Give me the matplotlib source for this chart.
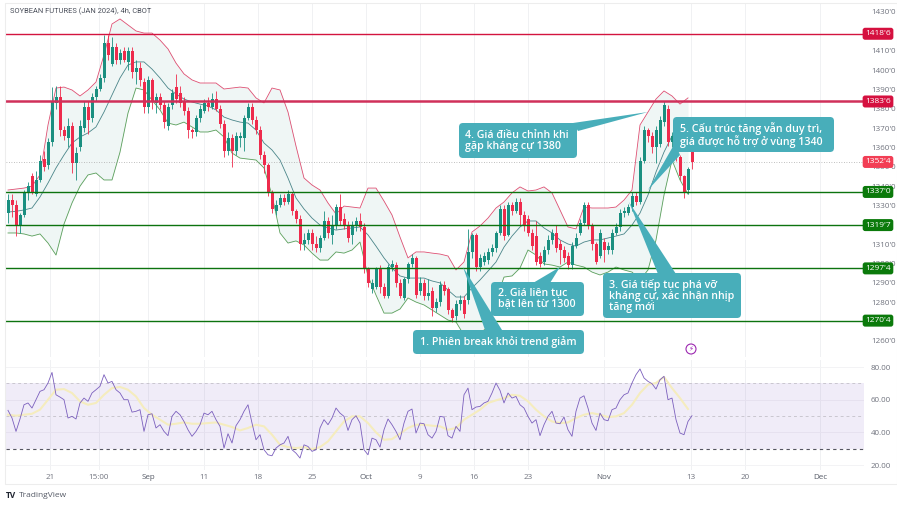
import numpy as np
import matplotlib
matplotlib.use("Agg")
import matplotlib.pyplot as plt
from matplotlib.patches import FancyBboxPatch, Polygon, Rectangle
from matplotlib.transforms import Affine2D

W, H = 897, 511

# candles, one row per bar, left to right
opens = [1326,1333,1330,1320,1325,1337,1345,1336,1343,1354,1351,1363,1383,1386,1369,1365,1371,1352,1360,1370,
         1381,1375,1386,1390,1396,1414,1403,1412,1405,1410,1404,1410,1399,1401,1394,1381,1395,1383,1386,1382,
         1371,1382,1391,1388,1384,1379,1369,1368,1375,1379,1383,1381,1385,1380,1372,1358,1365,1358,1365,1365,
         1375,1381,1374,1369,1356,1351,1337,1327,1330,1334,1332,1336,1327,1323,1310,1312,1316,1310,1308,1313,
         1322,1315,1320,1329,1323,1320,1315,1320,1322,1319,1297,1287,1288,1297,1288,1283,1298,1299,1290,1282,
         1292,1300,1303,1286,1290,1283,1286,1277,1280,1289,1287,1276,1273,1279,1281,1281,1306,1315,1298,1301,
         1302,1306,1308,1316,1328,1315,1330,1327,1332,1325,1323,1316,1314,1304,1301,1307,1312,1316,1310,1307,
         1304,1299,1309,1316,1321,1330,1320,1310,1304,1311,1307,1307,1316,1319,1326,1326,1329,1335,1332,1353,
         1369,1366,1360,1362,1373,1380,1363,1368,1355,1345,1338,1358]
highs = [1336,1336,1333,1326,1338,1342,1347,1348,1356,1358,1365,1391,1392,1392,1371,1375,1373,1360,1374,1384,
         1384,1388,1392,1398,1418,1418,1417,1414,1411,1412,1412,1412,1405,1404,1396,1397,1396,1388,1388,1384,
         1383,1390,1398,1392,1386,1381,1370,1377,1382,1385,1386,1388,1389,1382,1374,1368,1367,1368,1368,1377,
         1383,1383,1376,1371,1358,1352,1338,1333,1336,1336,1338,1337,1328,1325,1316,1318,1318,1314,1315,1327,
         1324,1325,1331,1336,1326,1322,1322,1324,1326,1321,1298,1292,1298,1299,1290,1300,1302,1301,1292,1293,
         1301,1305,1304,1293,1292,1292,1288,1282,1291,1291,1288,1277,1281,1284,1283,1318,1316,1316,1305,1306,
         1308,1310,1317,1330,1330,1332,1332,1334,1334,1327,1325,1318,1322,1306,1309,1315,1318,1320,1312,1309,
         1306,1311,1316,1323,1332,1332,1321,1311,1318,1313,1311,1318,1321,1328,1329,1331,1337,1337,1355,1371,
         1370,1368,1371,1376,1384,1382,1368,1370,1356,1346,1350,1359]
lows = [1321,1324,1314,1316,1324,1333,1336,1335,1342,1348,1349,1361,1380,1366,1364,1360,1347,1343,1358,1368,
        1367,1373,1384,1389,1394,1405,1402,1403,1403,1404,1400,1396,1393,1392,1378,1378,1380,1378,1380,1370,
        1369,1380,1383,1381,1377,1365,1365,1366,1373,1378,1379,1380,1379,1370,1355,1356,1350,1356,1360,1358,
        1374,1372,1367,1354,1347,1335,1326,1325,1329,1330,1331,1325,1321,1307,1307,1310,1307,1306,1306,1312,
        1313,1310,1318,1320,1318,1311,1310,1317,1317,1295,1288,1285,1287,1285,1282,1282,1296,1288,1282,1281,
        1290,1298,1282,1284,1281,1281,1273,1275,1278,1284,1274,1270,1271,1276,1272,1279,1303,1296,1296,1299,
        1300,1304,1306,1315,1312,1314,1325,1326,1320,1317,1314,1307,1299,1298,1299,1305,1310,1306,1300,1301,
        1297,1297,1308,1315,1320,1318,1307,1300,1303,1301,1305,1305,1315,1317,1324,1325,1327,1330,1331,1352,
        1363,1357,1352,1360,1371,1361,1360,1353,1343,1334,1336,1349]
closes = [1333,1330,1320,1325,1337,1340,1337,1343,1353,1350,1363,1384,1386,1369,1366,1371,1352,1357,1371,1381,
          1374,1386,1390,1396,1414,1408,1412,1405,1409,1405,1410,1399,1401,1395,1381,1395,1384,1386,1382,1373,
          1381,1388,1385,1383,1379,1369,1368,1375,1380,1383,1381,1385,1380,1372,1358,1365,1358,1366,1366,1375,
          1381,1374,1369,1356,1351,1337,1328,1330,1334,1332,1336,1327,1323,1310,1312,1316,1310,1308,1313,1322,
          1316,1320,1329,1322,1320,1313,1320,1322,1319,1297,1290,1290,1297,1288,1283,1298,1300,1290,1283,1292,
          1300,1303,1284,1290,1283,1285,1277,1280,1289,1286,1276,1272,1279,1281,1274,1306,1315,1298,1303,1304,
          1306,1308,1316,1328,1314,1330,1327,1332,1325,1320,1316,1309,1301,1300,1307,1312,1316,1308,1307,1303,
          1299,1309,1313,1321,1330,1320,1310,1301,1316,1307,1309,1316,1319,1326,1327,1329,1335,1332,1353,1369,
          1366,1360,1369,1374,1382,1363,1366,1355,1345,1337,1349,1352.5]

# bollinger bands, one value every second bar
bb_upper = [1338,1338.5,1339,1340,1345.8,1371.6,1390.7,1391.2,1389.7,1386.6,1389.7,1393.8,1407.8,1423.8,1426.4,1423.3,
            1420.2,1419.1,1419.1,1415.5,1410.9,1403.6,1398,1394.9,1393.3,1393.3,1393.3,1390.2,1390.7,1391.2,1390.7,
            1385.6,1383,1390.7,1389.7,1378.3,1360.7,1344.2,1340.6,1338,1331.3,1325.6,1329.7,1329.2,1328.7,1339,1339,
            1332.3,1325.1,1313.7,1302.9,1306,1306,1305.4,1304.9,1303.9,1296.7,1300.8,1316.3,1319.4,1323.5,1328.7,
            1331.8,1336.5,1339.6,1337.5,1338,1339.6,1336.5,1327.7,1318.9,1317.9,1329.2,1328.7,1328.7,1328.7,1329.2,
            1332.8,1338,1371.6,1378.3,1385,1389.2,1386.6,1382.4,1385.6]
bb_mid = [1326.6,1327,1327.7,1328.7,1334.4,1341.6,1349.4,1356.1,1362.3,1365.4,1367.5,1370.6,1378.3,1387.1,1395.9,1402.6,
          1404.2,1404.2,1400.5,1395.9,1390.7,1387.6,1385,1383.5,1382.4,1381.4,1379.4,1375.7,1374.2,1373.1,1372.6,
          1369,1362.3,1358.7,1353.5,1344.2,1333.9,1328.2,1323.5,1319.9,1318.4,1317.3,1317.9,1318.4,1318.9,1314.8,1309,
          1302.9,1297.7,1293.6,1292.5,1292.5,1292.5,1291,1290,1286.3,1282.7,1282.7,1287.4,1291.5,1296.1,1300.8,
          1308.5,1314.2,1318.9,1322,1322,1318.4,1315.8,1312.2,1310.1,1309,1311.1,1312.2,1312.2,1313.2,1314.2,
          1315.3,1319.9,1326.1,1335.4,1347.3,1357.6,1365.9,1363.8,1360.2]
bb_lower = [1315.8,1315.8,1315.3,1314.2,1315.3,1310.6,1304.4,1320.4,1331.3,1340,1345.8,1346.8,1343.2,1343.2,1357.6,1377.8,
            1390.7,1389.7,1384.5,1379.4,1372.6,1371.6,1373.1,1370.6,1368,1368,1369,1365.4,1357.1,1354.5,1354,
            1353.5,1349.4,1335.4,1315.8,1310.6,1311.7,1309.6,1305.4,1301.8,1301.8,1306,1305.4,1307,1311.1,1293.6,1283.7,
            1274.4,1274.4,1276.5,1282.2,1280.1,1278.6,1276,1273.4,1270.8,1269.8,1263,1261.5,1264.1,1267.2,1281.2,
            1293,1293.6,1297.7,1307,1304.4,1299.8,1299.2,1298.2,1300.8,1299.2,1298.2,1295.6,1294.1,1295.6,1298.2,
            1296.7,1295.6,1291.5,1296.7,1312.2,1335.4,1353.5,1343.2,1335.9]

# rsi per bar, rsi average every second bar
rsi = [53.5,48.8,40.6,48.2,56.9,58,54.9,60,65.1,66.1,70.2,76.7,63,61.6,60,48.8,49.8,48.2,58,61,59,64.1,66.1,68.2,75.3,
       70.2,71.2,66.1,64.1,60,60,52.4,52.9,53.9,40.6,50.8,51.4,42.7,44.7,40.6,38,49.8,52.9,50.8,46.7,41.6,37.6,40.6,
       44.7,51.8,50.8,52.9,47.8,43.7,30.4,39.2,33.5,44.1,47.8,52.9,56.9,45.7,35.5,38.6,29.4,26.3,25.7,30.4,32.4,33.5,
       37.6,29.4,27.3,24.3,32.4,31.4,28.4,29.4,42.7,47.8,44.7,48.8,54.9,51.8,49.8,41.2,47.8,50.2,45.7,29.4,26.3,36.5,
       35.5,31,41.6,48.2,44.7,40.6,35.5,45.7,52.9,54.3,39.6,45.7,45.3,38.6,36.5,40.6,49.8,49.4,38,36.5,43.7,40.6,63,
       67.1,53.9,55.5,55.9,58,59,64.1,70.2,65.7,58,64.1,61,62,56.9,54.9,49.8,45.7,47.8,38,44.7,49.8,52.9,45.7,45.3,
       49.4,41.6,37.6,52.9,61,62.4,54.9,45.7,41.2,51.8,47.8,47.1,53.9,54.9,60,63,64.1,70.2,75.3,78.8,73.3,71.2,69.8,
       66.5,72.2,74.3,60,61,47.8,39.6,38.6,46.7,50.2]
rsi_ma = [50.8,50.2,50.8,51.4,53.9,60,66.1,66.5,64.1,59,56.9,58,63,67.1,67.8,66.1,62,54.9,50.8,47.8,44.7,45.3,46.1,45.3,
          45.3,45.7,46.1,44.7,43.3,41.2,42.7,44.7,43.7,38.6,32.4,31,30.4,31,29.8,31,34.5,40.6,46.7,49.8,49.8,45.7,40,
          35.5,35.9,39.2,42.7,44.7,44.7,44.1,43.7,41.6,42.7,47.8,50.8,53.9,58,59.6,61,63,62.4,59,53.9,49.8,46.7,45.7,
          46.1,48.8,50.8,51.8,50.8,49.4,49.8,51.8,56.9,64.1,69.2,70.2,73.9,67.1,61,54.3]

# horizontal levels drawn on the chart
res_levels = [1418.75, 1383.75]
res_labels = ["1418'6", "1383'6"]
sup_levels = [1337.0, 1319.875, 1297.5, 1270.5]
sup_labels = ["1337'0", "1319'7", "1297'4", "1270'4"]
last_price = 1352.5
last_label = "1352'4"

# 1420, 1320 and 1270 sit fully behind the level tags in the reference
price_ticks = [1260, 1280, 1290, 1300, 1310, 1330, 1340, 1350, 1360, 1370, 1380, 1390, 1400, 1410, 1430]
price_grid = [1280, 1310, 1340, 1370, 1400, 1430]
rsi_ticks = [20, 40, 60, 80]
time_pos = [10.5, 22.75, 35, 49, 62.5, 76, 89.5, 103, 116.5, 130, 149, 170.75, 184.25, 203]
time_labels = ["21", "15:00", "Sep", "11", "18", "25", "Oct", "9", "16", "23", "Nov", "13", "20", "Dec"]

TEAL = "#1a8f80"
RED = "#ee2b4c"
BUBBLE = "#48aeba"
GRAY = "#70737e"

plt.rcParams['font.family'] = ['Open Sans', 'DejaVu Sans']

fig = plt.figure(figsize=(W / 100, H / 100), dpi=100)
px = Affine2D().scale(1 / W, -1 / H).translate(0, 1) + fig.transFigure


def pane(left, top, right, bottom):
    return fig.add_axes([left / W, 1 - bottom / H, (right - left) / W, (bottom - top) / H])


ax = pane(5.5, 3, 864, 357)
ax2 = pane(5.5, 360, 864, 470)
x_lim = ((5.5 - 8) / 4, (864 - 8) / 4)

bars = np.arange(len(closes))
o = np.array(opens)
c = np.array(closes)
colors = [TEAL if b else RED for b in c >= o]

band_x = bars[::2][:len(bb_mid)]
ax.fill_between(band_x, bb_lower, bb_upper, color="#eff6f5", lw=0, zorder=1)
ax.plot(band_x, bb_upper, color="#dd4f72", lw=0.6, zorder=2)
ax.plot(band_x, bb_lower, color="#5a9f5a", lw=0.6, zorder=2)
ax.plot(band_x, bb_mid, color="#4a8589", lw=0.6, zorder=2)

ax.vlines(bars, lows, highs, colors=colors, lw=0.6, zorder=3)
ax.bar(bars, np.maximum(np.abs(c - o), 0.6), bottom=np.minimum(o, c), width=0.75, color=colors, lw=0, zorder=3)

ax.set_xlim(x_lim)
ax.set_ylim(1436.2 - 0.5168 * 357, 1436.2 - 0.5168 * 3)
ax.set_yticks(price_ticks)
ax.set_yticklabels([f"{p}'0" for p in price_ticks])
ax.set_yticks(price_grid, minor=True)

ax.axhline(last_price, color="#aaaaaa", lw=0.6, ls=(0, (1, 2)), zorder=2)
ax.axhline(res_levels[0], color="#d3143f", lw=1.0, zorder=4)
ax.axhline(res_levels[1], color="#d0305a", lw=1.8, zorder=4)
for lv in sup_levels:
    ax.axhline(lv, color="#0c730f", lw=1.0, zorder=4)


def tag(level, label, color):
    ax.text(1 + 14 / 858.5, level, label, transform=ax.get_yaxis_transform(), ha="center", va="center",
            color="white", fontsize=6, zorder=6, clip_on=False,
            bbox=dict(boxstyle="round,pad=0.3", fc=color, ec="none"))


for lv, lb in zip(res_levels, res_labels):
    tag(lv, lb, "#d5103f")
for lv, lb in zip(sup_levels, sup_labels):
    tag(lv, lb, "#0b7a0b")
tag(last_price, last_label, "#f23e55")

ax2.axhspan(30, 70, color="#7e57c2", alpha=0.11, lw=0, zorder=1)
ax2.axhline(70, color="#c9c6cf", lw=0.7, ls=(0, (3, 3)), zorder=2)
ax2.axhline(50, color="#c9c6cf", lw=0.7, ls=(0, (3, 3)), zorder=2)
ax2.axhline(30, color="#555560", lw=0.8, ls=(0, (3, 3)), zorder=2)
ax2.plot(band_x, rsi_ma, color="#f5ecbe", lw=1.5, zorder=3)
ax2.plot(bars, rsi, color="#7b5fbd", lw=0.6, zorder=4)
ax2.set_xlim(x_lim)
ax2.set_ylim(80 - (470 - 367) / 1.635, 80 + (367 - 360) / 1.635)
ax2.set_yticks(rsi_ticks)
ax2.set_yticklabels([f"{v}.00" for v in rsi_ticks])

for a in (ax, ax2):
    a.yaxis.tick_right()
    a.set_xticks(time_pos)
    a.tick_params(axis="y", which="major", length=0, pad=5, labelsize=5.8, labelcolor=GRAY)
    a.tick_params(axis="y", which="minor", length=0)
    a.tick_params(axis="x", length=0)
    a.grid(axis="x", color="#f0f1f3", lw=0.7, zorder=0)
    a.set_axisbelow(True)
    for s in a.spines.values():
        s.set_visible(False)
ax.tick_params(axis="x", labelbottom=False)
ax.grid(axis="y", which="minor", color="#f3f3f5", lw=0.7)
ax2.grid(axis="y", color="#f3f3f5", lw=0.7)
ax2.set_xticklabels(time_labels)
ax2.tick_params(axis="x", pad=3, labelsize=5.8, labelcolor=GRAY)
for lb in ax2.get_xticklabels():
    if lb.get_text() in ("Sep", "Oct", "Nov", "Dec"):
        lb.set_color("#555a66")

# outer frame of the screenshot
fig.add_artist(Rectangle((5, 3), 892, 481, transform=px, fc="none", ec="#ededed", lw=0.8))


def bubble(x0, y0, x1, y1, pointer, text, tx, ty):
    fig.add_artist(Polygon(pointer, closed=True, transform=px, fc=BUBBLE, ec="none", zorder=7))
    fig.add_artist(FancyBboxPatch((x0 + 3, y0 + 3), x1 - x0 - 6, y1 - y0 - 6, boxstyle="round,pad=3,rounding_size=4",
                                  transform=px, fc=BUBBLE, ec="none", zorder=7))
    fig.text(tx / W, 1 - ty / H, text, color="white", fontsize=7.7, fontweight="semibold", ha="left", va="center",
             linespacing=1.0, zorder=8)


bubble(413, 330, 584, 354, [(463, 267), (485, 330), (502, 330)], "1. Phiên break khỏi trend giảm", 420, 342)
bubble(491, 282, 584, 316, [(560, 267), (533, 283), (550, 283)], "2. Giá liên tục\nbật lên từ 1300", 498, 299)
bubble(603, 273, 741, 318, [(629, 202), (658, 274), (676, 274)], "3. Giá tiếp tục phá vỡ\nkháng cự, xác nhận nhịp\ntăng mới", 609, 296)
bubble(459, 123, 577, 158, [(648, 112), (573, 123), (578, 131)], "4. Giá điều chỉnh khi\ngặp kháng cự 1380", 465, 141)
bubble(673, 117, 834, 152, [(648, 190), (675, 143), (680, 155)], "5. Cấu trúc tăng vẫn duy trì,\ngiá được hỗ trợ ở vùng 1340", 680, 135)

fig.text(10 / W, 1 - 11 / H, "SOYBEAN FUTURES (JAN 2024), 4h, CBOT", color="#4a4f5a", fontsize=5.4, family="Roboto", ha="left", va="center")
fig.text(6 / W, 1 - 495 / H, "TV", color="#1f2430", fontsize=6, fontweight="bold", ha="left", va="center")
fig.text(19 / W, 1 - 495 / H, "TradingView", color="#555a66", fontsize=6, ha="left", va="center")

# earnings marker near the end of the chart
fig.add_artist(plt.Circle((691, 349), 5, transform=px, fc="white", ec="#9c27b0", lw=0.8, zorder=5))
fig.text(691 / W, 1 - 349 / H, "\u26a1", color="#9c27b0", fontsize=5, ha="center", va="center", family="DejaVu Sans", zorder=6)

fig.savefig("out.png", dpi=100)
